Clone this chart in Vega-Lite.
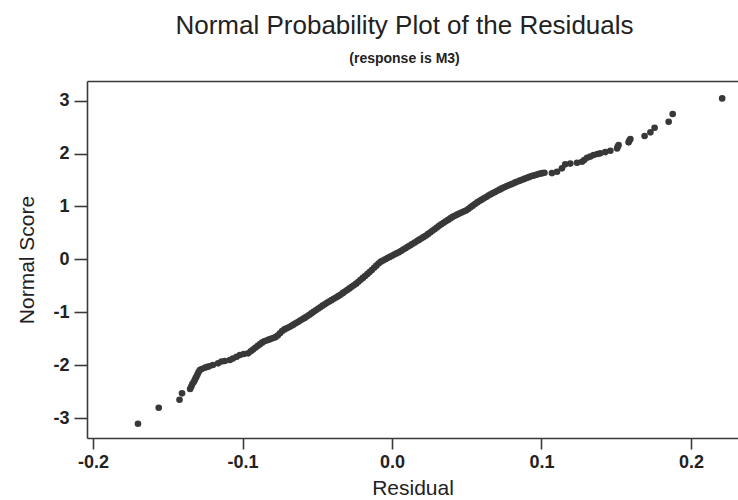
{
  "$schema": "https://vega.github.io/schema/vega-lite/v6.json",
  "autosize": "none",
  "width": 651,
  "height": 357,
  "padding": {"left": 87, "top": 81, "right": 0, "bottom": 62},
  "background": "white",
  "config": {
    "view": {"stroke": null},
    "font": "Liberation Sans",
    "axis": {"grid": false, "domainColor": "#3a3a3a", "domainWidth": 1.6, "tickColor": "#3a3a3a", "tickWidth": 1.6, "labelColor": "#222", "titleColor": "#222", "labelFont": "Liberation Sans", "titleFont": "Liberation Sans"}
  },
  "title": {
    "text": "Normal Probability Plot of the Residuals",
    "subtitle": "(response is M3)",
    "fontSize": 26,
    "fontWeight": "normal",
    "color": "#222",
    "subtitleFontSize": 14,
    "subtitleFontWeight": "bold",
    "subtitleColor": "#222",
    "subtitlePadding": 13,
    "offset": 15,
    "anchor": "middle",
    "dx": -8
  },
  "datasets": {
    "pts": [
      {"r": -0.1700, "s": -3.108}, {"r": -0.1561, "s": -2.805}, {"r": -0.1422, "s": -2.654}, {"r": -0.1405, "s": -2.533},
      {"r": -0.1351, "s": -2.452}, {"r": -0.1343, "s": -2.405}, {"r": -0.1336, "s": -2.357}, {"r": -0.1327, "s": -2.319},
      {"r": -0.1320, "s": -2.282}, {"r": -0.1314, "s": -2.244}, {"r": -0.1309, "s": -2.219}, {"r": -0.1302, "s": -2.178},
      {"r": -0.1295, "s": -2.136}, {"r": -0.1286, "s": -2.093}, {"r": -0.1273, "s": -2.074}, {"r": -0.1253, "s": -2.049},
      {"r": -0.1240, "s": -2.036}, {"r": -0.1224, "s": -2.023}, {"r": -0.1199, "s": -1.998}, {"r": -0.1164, "s": -1.966},
      {"r": -0.1141, "s": -1.932}, {"r": -0.1119, "s": -1.923}, {"r": -0.1085, "s": -1.904}, {"r": -0.1065, "s": -1.875},
      {"r": -0.1040, "s": -1.841}, {"r": -0.1018, "s": -1.809}, {"r": -0.0992, "s": -1.790}, {"r": -0.0963, "s": -1.777},
      {"r": -0.0945, "s": -1.737}, {"r": -0.0930, "s": -1.705}, {"r": -0.0915, "s": -1.672}, {"r": -0.0900, "s": -1.640},
      {"r": -0.0885, "s": -1.608}, {"r": -0.0870, "s": -1.575}, {"r": -0.0855, "s": -1.551}, {"r": -0.0840, "s": -1.535},
      {"r": -0.0825, "s": -1.519}, {"r": -0.0810, "s": -1.503}, {"r": -0.0795, "s": -1.487}, {"r": -0.0780, "s": -1.471},
      {"r": -0.0765, "s": -1.440}, {"r": -0.0750, "s": -1.398}, {"r": -0.0735, "s": -1.356}, {"r": -0.0720, "s": -1.325},
      {"r": -0.0705, "s": -1.304}, {"r": -0.0690, "s": -1.284}, {"r": -0.0675, "s": -1.260}, {"r": -0.0660, "s": -1.235},
      {"r": -0.0645, "s": -1.209}, {"r": -0.0630, "s": -1.184}, {"r": -0.0615, "s": -1.158}, {"r": -0.0600, "s": -1.133},
      {"r": -0.0585, "s": -1.107}, {"r": -0.0570, "s": -1.081}, {"r": -0.0555, "s": -1.052}, {"r": -0.0540, "s": -1.022},
      {"r": -0.0525, "s": -0.993}, {"r": -0.0510, "s": -0.964}, {"r": -0.0495, "s": -0.934}, {"r": -0.0480, "s": -0.905},
      {"r": -0.0465, "s": -0.876}, {"r": -0.0450, "s": -0.849}, {"r": -0.0435, "s": -0.823}, {"r": -0.0420, "s": -0.798},
      {"r": -0.0405, "s": -0.772}, {"r": -0.0390, "s": -0.747}, {"r": -0.0375, "s": -0.721}, {"r": -0.0360, "s": -0.696},
      {"r": -0.0345, "s": -0.669}, {"r": -0.0330, "s": -0.639}, {"r": -0.0315, "s": -0.609}, {"r": -0.0300, "s": -0.580},
      {"r": -0.0285, "s": -0.550}, {"r": -0.0270, "s": -0.520}, {"r": -0.0255, "s": -0.490}, {"r": -0.0240, "s": -0.460},
      {"r": -0.0225, "s": -0.425}, {"r": -0.0210, "s": -0.388}, {"r": -0.0195, "s": -0.351}, {"r": -0.0180, "s": -0.315},
      {"r": -0.0165, "s": -0.278}, {"r": -0.0150, "s": -0.241}, {"r": -0.0135, "s": -0.201}, {"r": -0.0120, "s": -0.160},
      {"r": -0.0105, "s": -0.119}, {"r": -0.0090, "s": -0.078}, {"r": -0.0075, "s": -0.044}, {"r": -0.0060, "s": -0.021},
      {"r": -0.0045, "s": 0.001}, {"r": -0.0030, "s": 0.024}, {"r": -0.0015, "s": 0.046}, {"r": 0.0000, "s": 0.068},
      {"r": 0.0015, "s": 0.090}, {"r": 0.0030, "s": 0.112}, {"r": 0.0045, "s": 0.134}, {"r": 0.0060, "s": 0.157},
      {"r": 0.0075, "s": 0.184}, {"r": 0.0090, "s": 0.210}, {"r": 0.0105, "s": 0.236}, {"r": 0.0120, "s": 0.262},
      {"r": 0.0135, "s": 0.288}, {"r": 0.0150, "s": 0.314}, {"r": 0.0165, "s": 0.341}, {"r": 0.0180, "s": 0.367},
      {"r": 0.0195, "s": 0.394}, {"r": 0.0210, "s": 0.420}, {"r": 0.0225, "s": 0.446}, {"r": 0.0240, "s": 0.476},
      {"r": 0.0255, "s": 0.507}, {"r": 0.0270, "s": 0.539}, {"r": 0.0285, "s": 0.570}, {"r": 0.0300, "s": 0.602},
      {"r": 0.0315, "s": 0.633}, {"r": 0.0330, "s": 0.663}, {"r": 0.0345, "s": 0.691}, {"r": 0.0360, "s": 0.718},
      {"r": 0.0375, "s": 0.746}, {"r": 0.0390, "s": 0.774}, {"r": 0.0405, "s": 0.802}, {"r": 0.0420, "s": 0.825},
      {"r": 0.0435, "s": 0.845}, {"r": 0.0450, "s": 0.865}, {"r": 0.0465, "s": 0.884}, {"r": 0.0480, "s": 0.904},
      {"r": 0.0495, "s": 0.924}, {"r": 0.0510, "s": 0.951}, {"r": 0.0525, "s": 0.983}, {"r": 0.0540, "s": 1.015},
      {"r": 0.0555, "s": 1.047}, {"r": 0.0570, "s": 1.077}, {"r": 0.0585, "s": 1.103}, {"r": 0.0600, "s": 1.128},
      {"r": 0.0615, "s": 1.154}, {"r": 0.0630, "s": 1.179}, {"r": 0.0645, "s": 1.205}, {"r": 0.0660, "s": 1.229},
      {"r": 0.0675, "s": 1.252}, {"r": 0.0690, "s": 1.274}, {"r": 0.0705, "s": 1.296}, {"r": 0.0720, "s": 1.318},
      {"r": 0.0735, "s": 1.341}, {"r": 0.0750, "s": 1.362}, {"r": 0.0765, "s": 1.380}, {"r": 0.0780, "s": 1.399},
      {"r": 0.0795, "s": 1.417}, {"r": 0.0810, "s": 1.435}, {"r": 0.0825, "s": 1.454}, {"r": 0.0840, "s": 1.471},
      {"r": 0.0855, "s": 1.488}, {"r": 0.0870, "s": 1.504}, {"r": 0.0885, "s": 1.521}, {"r": 0.0900, "s": 1.538},
      {"r": 0.0915, "s": 1.554}, {"r": 0.0930, "s": 1.569}, {"r": 0.0945, "s": 1.582}, {"r": 0.0960, "s": 1.595},
      {"r": 0.0975, "s": 1.607}, {"r": 0.0990, "s": 1.620}, {"r": 0.1005, "s": 1.630}, {"r": 0.1020, "s": 1.638},
      {"r": 0.1070, "s": 1.631}, {"r": 0.1104, "s": 1.656}, {"r": 0.1137, "s": 1.720}, {"r": 0.1159, "s": 1.796},
      {"r": 0.1193, "s": 1.811}, {"r": 0.1238, "s": 1.826}, {"r": 0.1271, "s": 1.845}, {"r": 0.1286, "s": 1.877},
      {"r": 0.1305, "s": 1.921}, {"r": 0.1327, "s": 1.943}, {"r": 0.1349, "s": 1.972}, {"r": 0.1374, "s": 1.991},
      {"r": 0.1394, "s": 2.004}, {"r": 0.1427, "s": 2.028}, {"r": 0.1461, "s": 2.053}, {"r": 0.1506, "s": 2.098},
      {"r": 0.1511, "s": 2.132}, {"r": 0.1516, "s": 2.161}, {"r": 0.1583, "s": 2.212}, {"r": 0.1588, "s": 2.246},
      {"r": 0.1595, "s": 2.274}, {"r": 0.1690, "s": 2.331}, {"r": 0.1729, "s": 2.401}, {"r": 0.1757, "s": 2.488},
      {"r": 0.1851, "s": 2.601}, {"r": 0.1878, "s": 2.747}, {"r": 0.2209, "s": 3.043}
    ]
  },
  "data": {"name": "pts"},
  "layer": [
    {
      "mark": {"type": "point", "filled": true, "shape": "circle", "size": 44, "color": "#383838", "opacity": 1},
      "encoding": {
        "x": {
          "field": "r", "type": "quantitative",
          "scale": {"domain": [-0.2041, 0.2315], "nice": false, "zero": false},
          "axis": {
            "title": "Residual", "values": [-0.2, -0.1, 0, 0.1, 0.2], "format": ".1f",
            "labelExpr": "replace(datum.label, '\u2212', '-')",
            "tickSize": 11, "labelPadding": 4, "labelFontSize": 18, "labelFontWeight": "bold",
            "titleFontSize": 21, "titleFontWeight": "normal", "titlePadding": 6
          }
        },
        "y": {
          "field": "s", "type": "quantitative",
          "scale": {"domain": [-3.378, 3.372], "nice": false, "zero": false},
          "axis": {
            "title": "Normal Score", "values": [-3, -2, -1, 0, 1, 2, 3], "format": "d",
            "labelExpr": "replace(datum.label, '\u2212', '-')",
            "tickSize": 13, "labelPadding": 5, "labelFontSize": 18, "labelFontWeight": "bold",
            "titleFontSize": 21, "titleFontWeight": "normal", "titlePadding": 15
          }
        }
      }
    },
    {
      "mark": {"type": "point", "opacity": 0},
      "encoding": {
        "x": {
          "field": "r", "type": "quantitative",
          "axis": {"orient": "top", "title": null, "labels": false, "ticks": false, "domain": true}
        }
      }
    }
  ],
  "resolve": {"axis": {"x": "independent"}}
}
